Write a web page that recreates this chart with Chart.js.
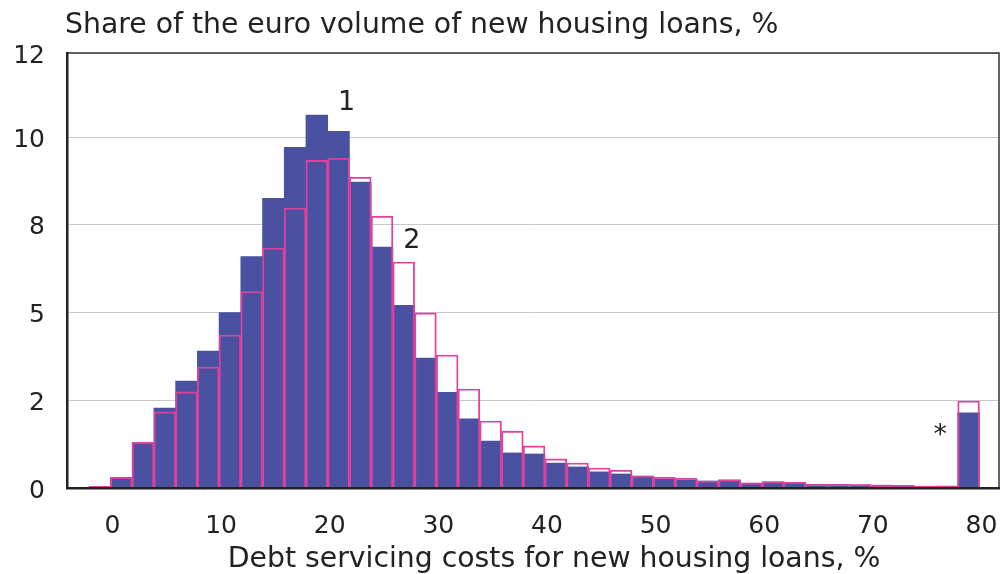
<!DOCTYPE html>
<html>
<head>
<meta charset="utf-8">
<script src="https://cdn.jsdelivr.net/npm/chart.js@4.4.1/dist/chart.umd.min.js"></script>
<style>
  html, body { margin: 0; padding: 0; background: #fff; }
  #wrap { width: 1002px; height: 574px; }
</style>
</head>
<body>
<div id="wrap"><canvas id="dscChart"></canvas></div>
<script>
// lower edge of each 2-point bin of debt servicing costs, %
const binStarts = [-2, 0, 2, 4, 6, 8, 10, 12, 14, 16, 18, 20, 22, 24, 26, 28, 30, 32, 34, 36, 38,
                   40, 42, 44, 46, 48, 50, 52, 54, 56, 58, 60, 62, 64, 66, 68, 70, 72, 74, 76, 78];

// series 1 (filled bars)
const seriesOne = [0.02, 0.3, 1.3, 2.28, 3.05, 3.9, 5.0, 6.6, 8.26, 9.71, 10.63, 10.17, 8.72, 6.87, 5.21, 3.7, 2.73, 1.97, 1.34, 1.0, 0.97,
                   0.71, 0.6, 0.46, 0.4, 0.34, 0.26, 0.23, 0.2, 0.23, 0.14, 0.17, 0.13, 0.1, 0.1, 0.09, 0.08, 0.07, 0.05, 0.05, 2.14];

// series 2 (outlined bars)
const seriesTwo = [0.05, 0.3, 1.3, 2.17, 2.74, 3.45, 4.36, 5.6, 6.84, 7.98, 9.34, 9.4, 8.86, 7.75, 6.44, 4.99, 3.79, 2.82, 1.91, 1.62, 1.2,
                   0.83, 0.71, 0.57, 0.51, 0.34, 0.31, 0.28, 0.2, 0.23, 0.14, 0.18, 0.17, 0.1, 0.1, 0.1, 0.08, 0.07, 0.05, 0.06, 2.48];

const xTicks = [0, 10, 20, 30, 40, 50, 60, 70, 80];
const yTicks = [0, 2.5, 5, 7.5, 10, 12.4];
const yTickLabels = ['0', '2', '5', '8', '10', '12'];

const noteText = ['1', '2', '*'];
const noteX = [21.75, 27.74, 76.4];
const noteY = [10.77, 6.84, 1.28];

const chartTitle = 'Share of the euro volume of new housing loans, %';
const xTitle = 'Debt servicing costs for new housing loans, %';

const FONT = '"DejaVu Sans", sans-serif';
const TEXT = '#222';

function toPoints(values) {
    return values.map((v, i) => ({ x: binStarts[i] + 1, y: v }));
}

const frameAndNotes = {
    id: 'frameAndNotes',
    afterDatasetsDraw(chart) {
        const { ctx, chartArea: a, scales: { x, y } } = chart;
        ctx.save();
        ctx.strokeStyle = '#333';
        ctx.lineWidth = 1.5;
        ctx.beginPath();
        ctx.moveTo(a.left, a.top);
        ctx.lineTo(a.right, a.top);
        ctx.lineTo(a.right, a.bottom);
        ctx.stroke();

        ctx.fillStyle = TEXT;
        ctx.font = '27px ' + FONT;
        ctx.textBaseline = 'alphabetic';
        ctx.textAlign = 'center';
        noteText.forEach((t, i) => {
            ctx.fillText(t, x.getPixelForValue(noteX[i]), y.getPixelForValue(noteY[i]));
        });
        ctx.font = '28.3px ' + FONT;
        ctx.textAlign = 'left';
        ctx.fillText(chartTitle, 65, 33);
        ctx.textAlign = 'center';
        ctx.fillText(xTitle, 554, 567);
        ctx.restore();
    }
};

new Chart(document.getElementById('dscChart').getContext('2d'), {
    type: 'bar',
    data: {
        datasets: [{
            label: 'Outline',
            data: toPoints(seriesTwo),
            backgroundColor: 'rgba(0,0,0,0)',
            borderColor: '#e2409c',
            borderWidth: 1.2,
            borderSkipped: 'start',
            grouped: false,
            barPercentage: 1,
            categoryPercentage: 1,
            order: 0
        }, {
            label: 'Filled',
            data: toPoints(seriesOne),
            backgroundColor: '#4a51a1',
            borderWidth: 0,
            grouped: false,
            barPercentage: 1,
            categoryPercentage: 1,
            order: 1
        }]
    },
    options: {
        responsive: true,
        maintainAspectRatio: false,
        animation: false,
        layout: { padding: { top: 53, right: 3, left: 0, bottom: 0 } },
        plugins: {
            legend: { display: false },
            tooltip: { enabled: false }
        },
        scales: {
            x: {
                type: 'linear',
                min: -4,
                max: 81.8,
                offset: false,
                grid: { display: false },
                border: { display: true, color: '#222', width: 2.5, z: 1 },
                afterBuildTicks: scale => { scale.ticks = xTicks.map(v => ({ value: v })); },
                afterFit: scale => {
                    scale.height = 86;
                    scale.paddingLeft = 0;
                    scale.paddingRight = 0;
                },
                ticks: {
                    autoSkip: false,
                    maxRotation: 0,
                    padding: 15,
                    labelOffset: 2,
                    color: TEXT,
                    font: { family: FONT, size: 25 }
                }
            },
            y: {
                min: 0,
                max: 12.4,
                grid: { color: '#c8c8c8', lineWidth: 1, drawTicks: false },
                border: { display: true, color: '#222', width: 2.5, z: 1 },
                afterBuildTicks: scale => { scale.ticks = yTicks.map(v => ({ value: v })); },
                afterFit: scale => {
                    scale.width = 67;
                    scale.paddingTop = 0;
                    scale.paddingBottom = 0;
                },
                ticks: {
                    padding: 22,
                    labelOffset: 3,
                    color: TEXT,
                    font: { family: FONT, size: 25 },
                    callback: (value, index) => yTickLabels[index]
                }
            }
        }
    },
    plugins: [frameAndNotes]
});
</script>
</body>
</html>
